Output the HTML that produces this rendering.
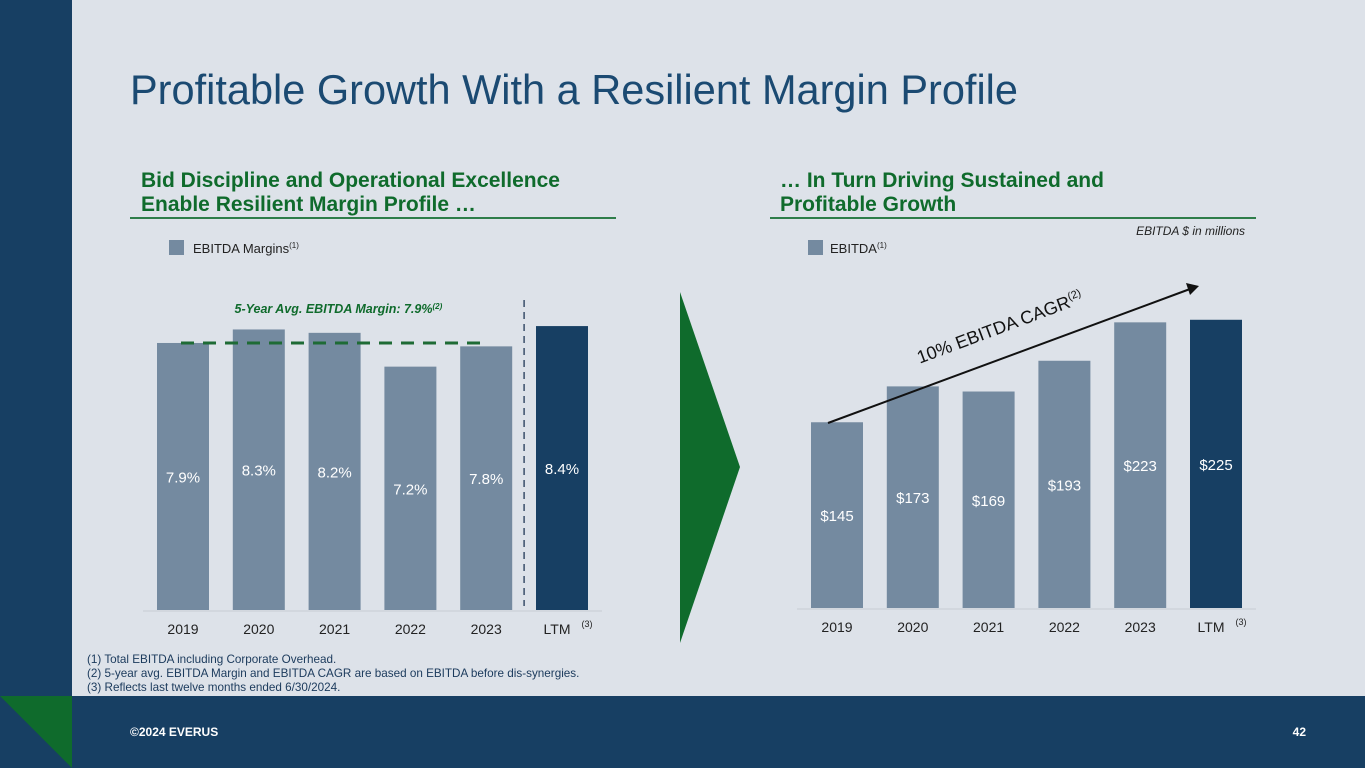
<!DOCTYPE html>
<html><head><meta charset="utf-8"><style>
body{margin:0;width:1365px;height:768px;overflow:hidden;background:#dde2e9;font-family:"Liberation Sans",sans-serif}
svg{display:block}
</style></head><body>
<svg width="1365" height="768" xmlns="http://www.w3.org/2000/svg" id="slide">
<rect x="0" y="0" width="1365" height="768" fill="#dde2e9"/>
<rect x="0" y="0" width="72" height="696" fill="#173f63"/>
<rect x="0" y="696" width="1365" height="72" fill="#173f63"/>
<polygon points="0,696 72,696 72,768" fill="#0f6b2c"/>
<text x="130" y="736" font-size="12" font-weight="bold" fill="#fff">©2024 EVERUS</text>
<text x="1306" y="736" font-size="12" font-weight="bold" fill="#fff" text-anchor="end">42</text>
<text x="130" y="104" font-size="41.5" fill="#1b4a72">Profitable Growth With a Resilient Margin Profile</text>

<g font-size="21" font-weight="bold" fill="#0f6b2c">
<text x="141" y="187">Bid Discipline and Operational Excellence</text>
<text x="141" y="211">Enable Resilient Margin Profile …</text></g>
<line x1="130" y1="218" x2="616" y2="218" stroke="#2e7d4a" stroke-width="2"/>
<g font-size="21" font-weight="bold" fill="#0f6b2c">
<text x="780" y="187">… In Turn Driving Sustained and</text>
<text x="780" y="211">Profitable Growth</text></g>
<line x1="770" y1="218" x2="1256" y2="218" stroke="#2e7d4a" stroke-width="2"/>
<text x="1245" y="235" font-size="12" font-style="italic" fill="#222" text-anchor="end">EBITDA $ in millions</text>

<g>
<rect x="169" y="240" width="15" height="15" fill="#748aa0"/>
<text x="193" y="253" font-size="13" fill="#222">EBITDA Margins<tspan font-size="8" dy="-5">(1)</tspan></text></g>
<g>
<rect x="808" y="240" width="15" height="15" fill="#748aa0"/>
<text x="830" y="253" font-size="13" fill="#222">EBITDA<tspan font-size="8" dy="-5">(1)</tspan></text></g>

<g id="left-chart"></g>
<g id="right-chart"></g>

<polygon points="680,292 740,467 680,643" fill="#0f6b2c"/>

<g font-size="11.7" fill="#1b3a5c">
<text x="87" y="663">(1)  Total EBITDA including Corporate Overhead.</text>
<text x="87" y="677">(2)  5-year avg. EBITDA Margin and EBITDA CAGR are based on EBITDA before dis-synergies.</text>
<text x="87" y="691">(3)  Reflects last twelve months ended 6/30/2024.</text></g>
</svg>
<script>
const categories=["2019","2020","2021","2022","2023","LTM"];
const margins=[7.9,8.3,8.2,7.2,7.8,8.4];
const marginLabels=["7.9%","8.3%","8.2%","7.2%","7.8%","8.4%"];
const avgMargin=7.9;
const ebitda=[145,173,169,193,223,225];
const ebitdaLabels=["$145","$173","$169","$193","$223","$225"];
const NS="http://www.w3.org/2000/svg";
function mk(p,t,a){const e=document.createElementNS(NS,t);for(const k in a)e.setAttribute(k,a[k]);p.appendChild(e);return e;}
function drawChart(g,vals,labels,x0,step,base,scale,avg){
  const y=v=>base-v*scale;
  const ln=mk(g,'line',{x1:x0-40,y1:base+1,x2:x0+step*5+40,y2:base+1,stroke:'#c6ccd4','stroke-width':1});
  
  
  vals.forEach((v,i)=>{
    const cx=x0+i*step;
    const r=mk(g,'rect',{x:cx-26,y:y(v),width:52,height:base-y(v),fill:i==5?'#173f63':'#748aa0'});
    
    
    const t=mk(g,'text',{x:cx,y:(y(v)+base)/2+6,'font-size':15,fill:'#fff','text-anchor':'middle'});
    t.textContent=labels[i];
    
    
    const c=mk(g,'text',{x:cx-(i==5?5:0),y:base+24,'font-size':14,fill:'#222','text-anchor':'middle'});
    c.textContent=categories[i];
    
    
    if(i==5){const s=mk(g,'text',{x:cx+25,y:base+17,'font-size':9,fill:'#222','text-anchor':'middle'});s.textContent='(3)';
      
      }
  });
  if(avg!=null){
    const a=mk(g,'line',{x1:x0-2,y1:y(avg),x2:x0+step*4,y2:y(avg),stroke:'#1e6b35','stroke-width':3,'stroke-dasharray':'13,9'});
    
    
    const t=mk(g,'text',{x:x0+step*2.05,y:313,'font-size':12.5,'font-weight':'bold','font-style':'italic',fill:'#0f6b2c','text-anchor':'middle'});
    t.innerHTML='5-Year Avg. EBITDA Margin: 7.9%<tspan font-size="8" dy="-4">(2)</tspan>';
    
    
    const d=mk(g,'line',{x1:x0+step*4.5,y1:300,x2:x0+step*4.5,y2:606,stroke:'#3a4f6a','stroke-width':1.5,'stroke-dasharray':'7,5'});
    
    
  }
}
drawChart(document.getElementById('left-chart'),margins,marginLabels,183,75.8,610,33.8,avgMargin);
const rg=document.getElementById('right-chart');
drawChart(rg,ebitda,ebitdaLabels,837,75.8,608,1.281,null);
const ar=mk(rg,'line',{x1:828,y1:423,x2:1190,y2:289,stroke:'#111','stroke-width':2});


const ah=mk(rg,'polygon',{points:'1199,286 1186,283 1190,295',fill:'#111'});


const ct=mk(rg,'text',{x:1002,y:333,'font-size':18,fill:'#111','text-anchor':'middle',transform:'rotate(-20.5 1002 333)'});
ct.innerHTML='10% EBITDA CAGR<tspan font-size="11" dy="-7">(2)</tspan>';


</script>
</body></html>
